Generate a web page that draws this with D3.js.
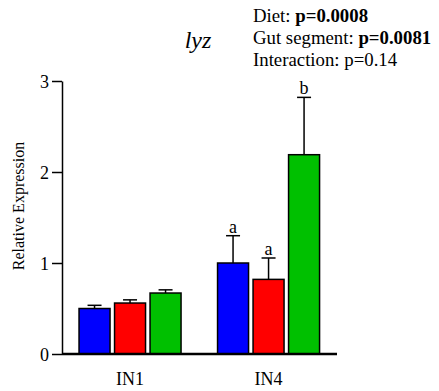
<!DOCTYPE html>
<html>
<head>
<meta charset="utf-8">
<script src="https://cdn.jsdelivr.net/npm/d3@7"></script>
<style>
  body { margin: 0; background: #fff; }
</style>
</head>
<body>
<div id="canvas"></div>
<script>
// data
var groups = ['IN1', 'IN4'];
var series = ['diet1', 'diet2', 'diet3'];
var colors = ['#0000ff', '#ff0000', '#00c000'];
var blueMeans = [0.50, 1.00],  blueErr = [0.035, 0.30];
var redMeans = [0.56, 0.82],   redErr = [0.035, 0.235];
var greenMeans = [0.67, 2.19], greenErr = [0.035, 0.63];
var letters = [['', 'a'], ['', 'a'], ['', 'b']];
var yTicks = [0, 1, 2, 3];
var statLines = [
  [{t: 'Diet: ', b: false}, {t: 'p=0.0008', b: true}],
  [{t: 'Gut segment: ', b: false}, {t: 'p=0.0081', b: true}],
  [{t: 'Interaction: p=0.14', b: false}]
];

var means = [blueMeans, redMeans, greenMeans],
    errs = [blueErr, redErr, greenErr];

var FONT = '"Liberation Serif", "Times New Roman", serif';
var W = 439, H = 391;
var svg = d3.select('#canvas').append('svg')
    .attr('width', W).attr('height', H);

var y = d3.scaleLinear().domain([0, 3]).range([354, 81]);
var x0 = d3.scaleBand().domain(groups).range([62, 336.6])
    .paddingInner(0.2635).paddingOuter(0.123);
var x1 = d3.scaleBand().domain(series).range([0, x0.bandwidth()])
    .paddingInner(0.127).paddingOuter(0);

// flatten into bar records
var bars = [];
groups.forEach(function(g, gi){
  series.forEach(function(s, si){
    bars.push({g: g, s: s, color: colors[si], v: means[si][gi], e: errs[si][gi], l: letters[si][gi]});
  });
});

var cap = 7;
var barG = svg.append('g').selectAll('g').data(bars).enter().append('g')
    .attr('transform', function(d){ return 'translate(' + (x0(d.g) + x1(d.s)) + ',0)'; });

// error bars (upper only)
barG.append('line')
    .attr('x1', x1.bandwidth()/2).attr('x2', x1.bandwidth()/2)
    .attr('y1', function(d){ return y(d.v); })
    .attr('y2', function(d){ return y(d.v + d.e); })
    .style('stroke', '#000').style('stroke-width', '1.5px');
barG.append('line')
    .attr('x1', x1.bandwidth()/2 - cap).attr('x2', x1.bandwidth()/2 + cap)
    .attr('y1', function(d){ return y(d.v + d.e); })
    .attr('y2', function(d){ return y(d.v + d.e); })
    .style('stroke', '#000').style('stroke-width', '1.5px');

barG.append('rect')
    .attr('x', 0).attr('width', x1.bandwidth())
    .attr('y', function(d){ return y(d.v); })
    .attr('height', function(d){ return y(0) - y(d.v); })
    .style('fill', function(d){ return d.color; })
    .style('stroke', '#000').style('stroke-width', '1.5px');

barG.append('text')
    .attr('x', x1.bandwidth()/2)
    .attr('y', function(d){ return y(d.v + d.e) - 3; })
    .attr('text-anchor', 'middle')
    .style('font-family', FONT).style('font-size', '18px')
    .text(function(d){ return d.l; });

// y axis
var yAxis = svg.append('g').attr('transform', 'translate(62,0)')
    .call(d3.axisLeft(y).tickValues(yTicks).tickFormat(d3.format('d')).tickSize(10).tickSizeOuter(0));
yAxis.select('.domain').style('stroke-width', '1.5px');
yAxis.selectAll('.tick line').style('stroke-width', '1.5px');
yAxis.selectAll('.tick text').attr('x', -13).attr('dy', '0.34em')
    .style('font-family', FONT).style('font-size', '18px').style('fill', '#000');

// x axis baseline + labels
svg.append('line')
    .attr('x1', 62).attr('x2', 337).attr('y1', y(0)).attr('y2', y(0))
    .style('stroke', '#000').style('stroke-width', '2.5px');
svg.selectAll('.xlab').data(groups).enter().append('text')
    .attr('class', 'xlab')
    .attr('x', function(d){ return x0(d) + x0.bandwidth()/2; })
    .attr('y', 385)
    .attr('text-anchor', 'middle')
    .style('font-family', FONT).style('font-size', '18px')
    .text(function(d){ return d; });

// y label
svg.append('text')
    .attr('transform', 'translate(24,206) rotate(-90)')
    .attr('text-anchor', 'middle')
    .style('font-family', FONT).style('font-size', '16px')
    .text('Relative Expression');

// title
svg.append('text')
    .attr('x', 198).attr('y', 48)
    .attr('text-anchor', 'middle')
    .style('font-family', FONT).style('font-size', '24px').style('font-style', 'italic')
    .text('lyz');

// stats
var st = svg.append('g');
statLines.forEach(function(line, i){
  var t = st.append('text').attr('x', 253).attr('y', 22 + i*22)
      .style('font-family', FONT).style('font-size', '18.8px');
  line.forEach(function(p){
    t.append('tspan').style('font-weight', p.b ? 'bold' : 'normal').text(p.t);
  });
});
</script>
</body>
</html>
